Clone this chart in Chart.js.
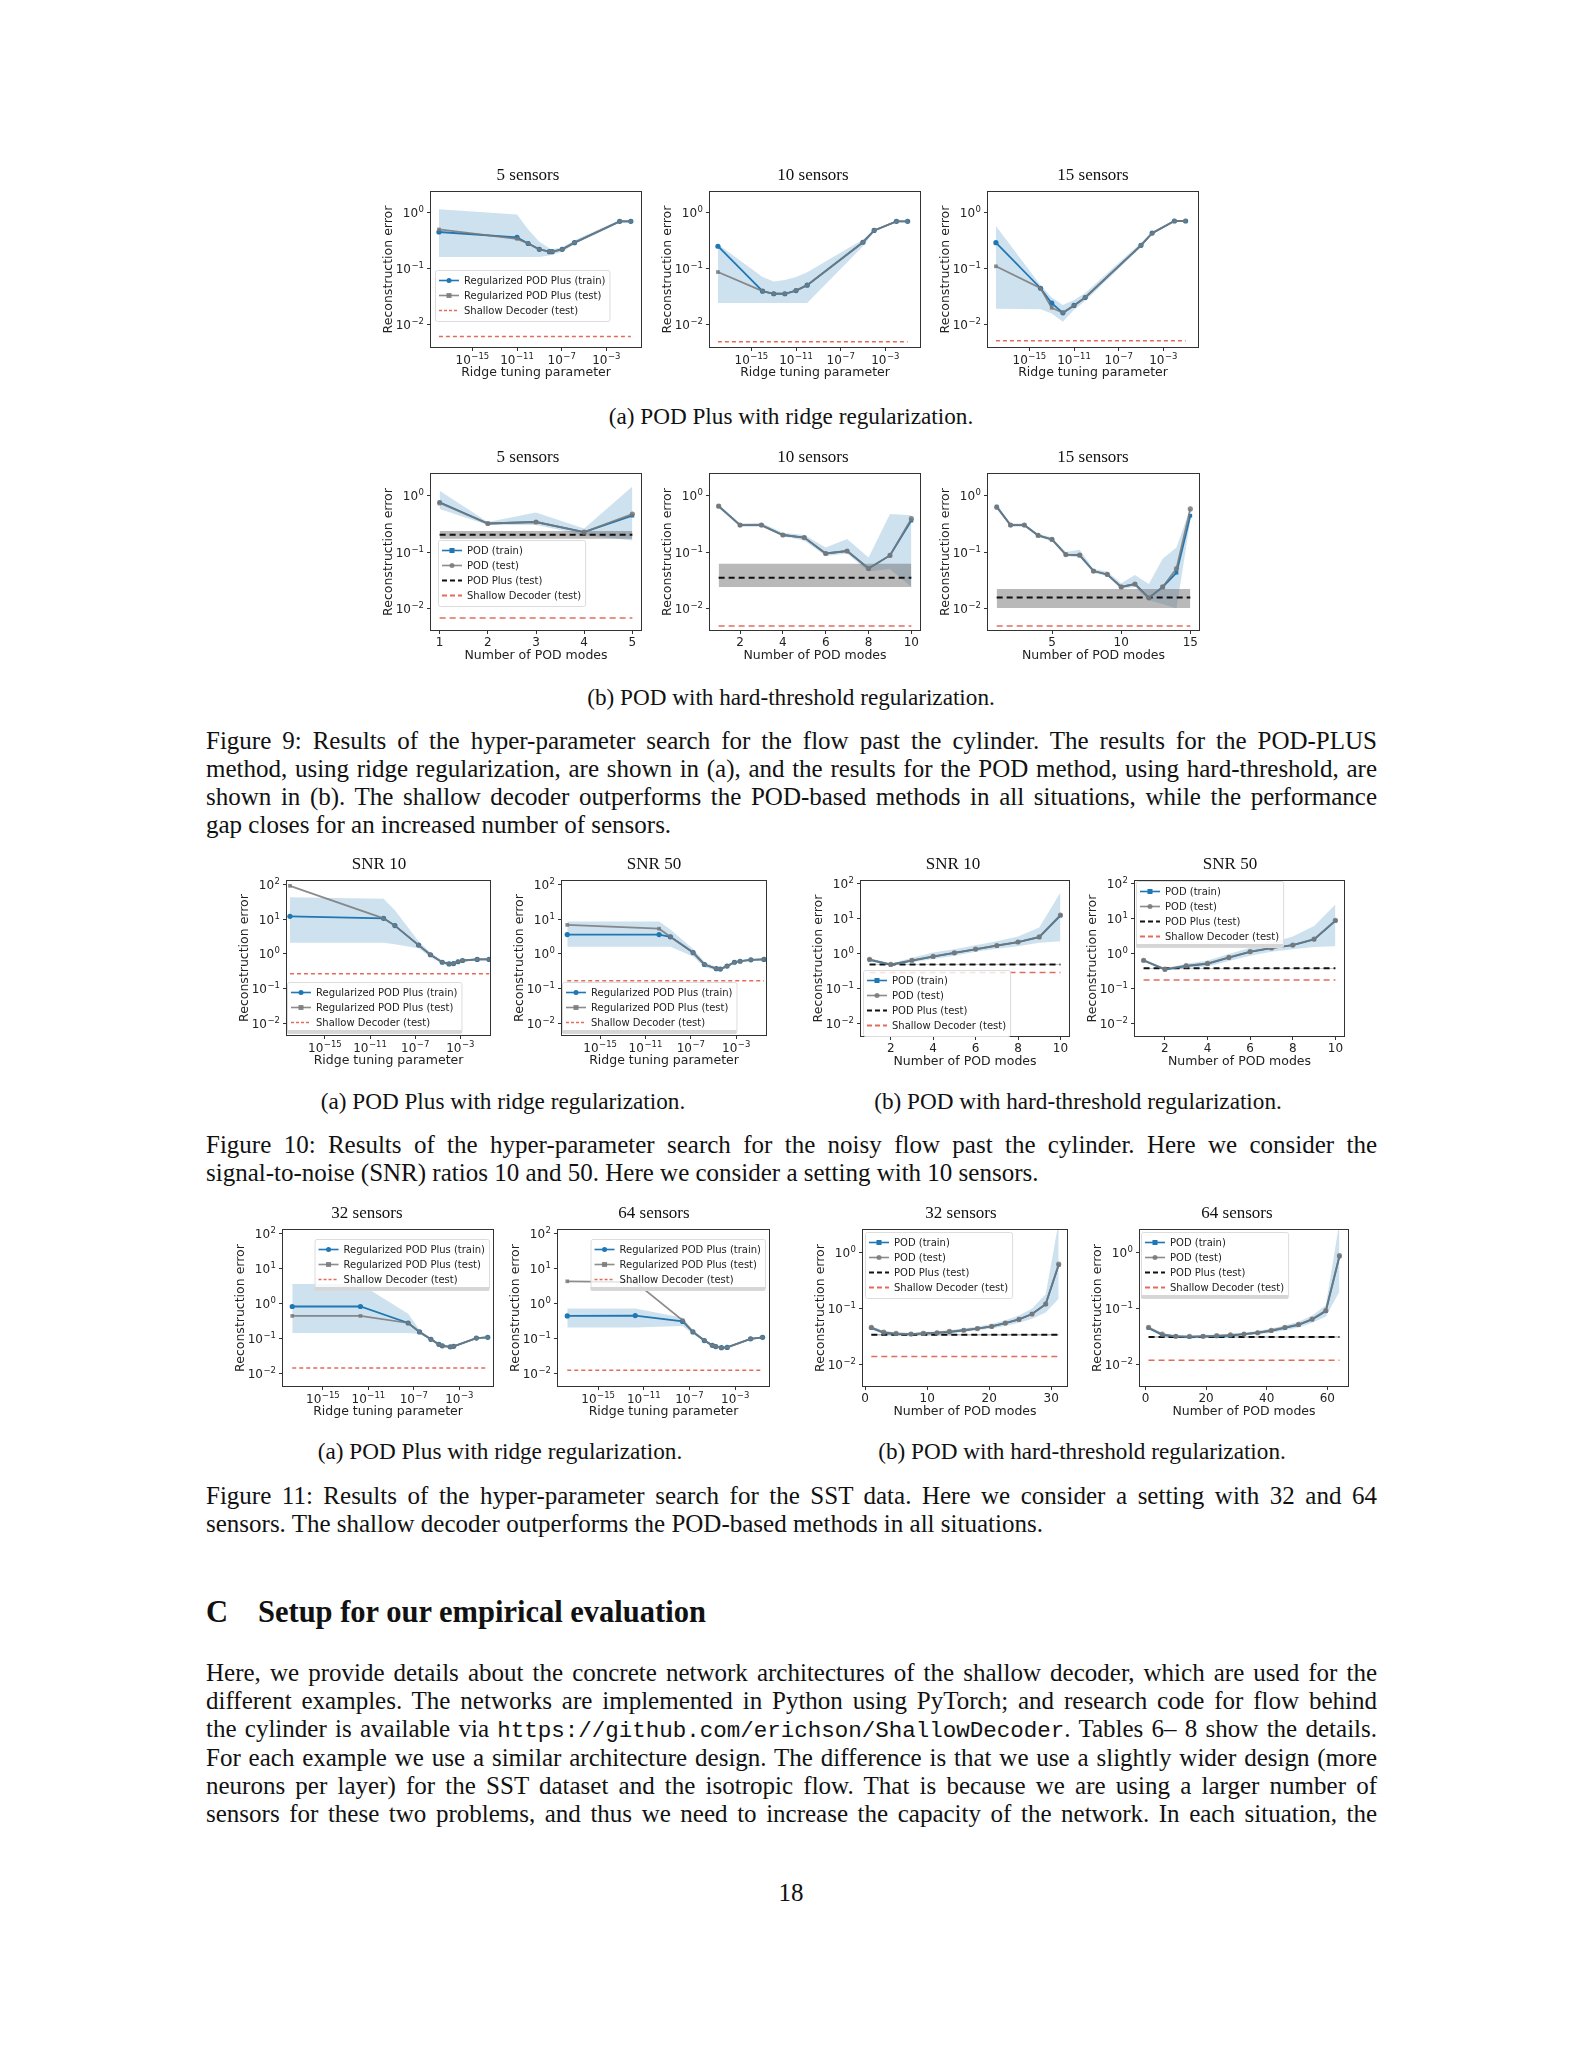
<!DOCTYPE html>
<html>
<head>
<meta charset="utf-8">
<title>Hyper-parameter search figures</title>
<script src="https://cdn.jsdelivr.net/npm/chart.js@4.4.1/dist/chart.umd.min.js"></script>
<style>
  html, body { margin: 0; padding: 0; background: #fff; }
  body { position: relative; width: 1582px; height: 2048px; overflow: hidden;
         font-family: "Liberation Serif", "Times New Roman", serif; color: #111; }
  canvas { position: absolute; }
  .ttl { position: absolute; width: 200px; text-align: center; font-size: 17px; line-height: 22px; white-space: nowrap; }
  .cap { position: absolute; left: 206px; width: 1171px; font-size: 25px; line-height: 28px;
         text-align: justify; text-align-last: justify; }
  .cap.end { text-align-last: left; }
  .sub { position: absolute; width: 800px; text-align: center; font-size: 23.2px; line-height: 28px; white-space: nowrap; }
  .num { font-size: 25px; }
  .mono { font-family: "Liberation Mono", monospace; font-size: 22.5px; }
  .head { position: absolute; top: 1595px; font-size: 30.5px; line-height: 34px; font-weight: bold; white-space: nowrap; }
</style>
</head>
<body>

<!-- Figure 9 text -->
<div class="sub" style="left:391px;top:402px">(a) POD Plus with ridge regularization.</div>
<div class="sub" style="left:391px;top:683px">(b) POD with hard-threshold regularization.</div>
<div class="cap" style="top:727px">Figure 9: Results of the hyper-parameter search for the flow past the cylinder. The results for the POD-PLUS</div>
<div class="cap" style="top:755px">method, using ridge regularization, are shown in (a), and the results for the POD method, using hard-threshold, are</div>
<div class="cap" style="top:783px">shown in (b). The shallow decoder outperforms the POD-based methods in all situations, while the performance</div>
<div class="cap end" style="top:811px">gap closes for an increased number of sensors.</div>

<!-- Figure 10 text -->
<div class="sub" style="left:103px;top:1087px">(a) POD Plus with ridge regularization.</div>
<div class="sub" style="left:678px;top:1087px">(b) POD with hard-threshold regularization.</div>
<div class="cap" style="top:1131px">Figure 10: Results of the hyper-parameter search for the noisy flow past the cylinder. Here we consider the</div>
<div class="cap end" style="top:1159px">signal-to-noise (SNR) ratios 10 and 50. Here we consider a setting with 10 sensors.</div>

<!-- Figure 11 text -->
<div class="sub" style="left:100px;top:1437px">(a) POD Plus with ridge regularization.</div>
<div class="sub" style="left:682px;top:1437px">(b) POD with hard-threshold regularization.</div>
<div class="cap" style="top:1482px">Figure 11: Results of the hyper-parameter search for the SST data. Here we consider a setting with 32 and 64</div>
<div class="cap end" style="top:1510px">sensors. The shallow decoder outperforms the POD-based methods in all situations.</div>

<!-- Section C -->
<div class="head" style="left:206px">C</div>
<div class="head" style="left:258px">Setup for our empirical evaluation</div>
<div class="cap" style="top:1659px">Here, we provide details about the concrete network architectures of the shallow decoder, which are used for the</div>
<div class="cap" style="top:1687px">different examples. The networks are implemented in Python using PyTorch; and research code for flow behind</div>
<div class="cap" style="top:1715px">the cylinder is available via <span class="mono">https://github.com/erichson/ShallowDecoder</span>. Tables 6– 8 show the details.</div>
<div class="cap" style="top:1744px">For each example we use a similar architecture design. The difference is that we use a slightly wider design (more</div>
<div class="cap" style="top:1772px">neurons per layer) for the SST dataset and the isotropic flow. That is because we are using a larger number of</div>
<div class="cap" style="top:1800px">sensors for these two problems, and thus we need to increase the capacity of the network. In each situation, the</div>
<div class="sub num" style="left:391px;top:1879px">18</div>

<script>
// tick labels (exponents for log axes, plain values for linear axes)
const ridgeTickExp = [-15, -11, -7, -3];
const errTicksSmall = [-2, -1, 0];
const errTicksWide = [-2, -1, 0, 1, 2];
const modeTicks5 = [1, 2, 3, 4, 5];
const modeTicks10 = [2, 4, 6, 8, 10];
const modeTicks15 = [5, 10, 15];
const modeTicks32 = [0, 10, 20, 30];
const modeTicks64 = [0, 20, 40, 60];

// ---- Figure 9 (a): ridge parameter, flow past the cylinder ----
const f9a5Exp   = [-18, -11, -10, -9, -8.1, -7.85, -6.95, -5.85, -1.8, -0.8];
const f9a5Train = [0.45, 0.36, 0.28, 0.22, 0.20, 0.20, 0.22, 0.29, 0.70, 0.70];
const f9a5Test  = [0.50, 0.34, 0.28, 0.22, 0.20, 0.20, 0.22, 0.29, 0.70, 0.70];
const f9a5Hi    = [1.15, 0.93, 0.50, 0.30, 0.23, 0.22, 0.24, 0.32, 0.74, 0.74];
const f9a5Lo    = [0.16, 0.16, 0.16, 0.16, 0.17, 0.175, 0.20, 0.27, 0.66, 0.66];
const f9a5Shallow = 0.006;

const f9a10Exp   = [-18, -14, -13, -12, -11, -10, -5, -4, -2, -1];
const f9a10Train = [0.25, 0.039, 0.035, 0.035, 0.040, 0.050, 0.295, 0.48, 0.70, 0.70];
const f9a10Test  = [0.086, 0.039, 0.035, 0.035, 0.040, 0.050, 0.295, 0.48, 0.70, 0.70];
const f9a10Hi    = [0.27, 0.070, 0.058, 0.062, 0.070, 0.085, 0.33, 0.50, 0.72, 0.72];
const f9a10Lo    = [0.024, 0.024, 0.024, 0.024, 0.024, 0.024, 0.25, 0.45, 0.68, 0.68];
const f9a10Shallow = 0.0048;

const f9a15Exp   = [-18, -14, -13, -12, -11, -10, -5, -4, -2, -1];
const f9a15Train = [0.29, 0.044, 0.0237, 0.0159, 0.0216, 0.030, 0.26, 0.43, 0.71, 0.71];
const f9a15Test  = [0.109, 0.044, 0.0196, 0.0159, 0.0216, 0.030, 0.26, 0.43, 0.71, 0.71];
const f9a15Hi    = [0.58, 0.050, 0.030, 0.022, 0.027, 0.036, 0.29, 0.46, 0.73, 0.73];
const f9a15Lo    = [0.0188, 0.0185, 0.0155, 0.011, 0.018, 0.026, 0.24, 0.41, 0.69, 0.69];
const f9a15Shallow = 0.005;

// ---- Figure 9 (b): number of POD modes ----
const f9b5Modes = [1, 2, 3, 4, 5];
const f9b5Train = [0.76, 0.32, 0.34, 0.225, 0.44];
const f9b5Test  = [0.74, 0.32, 0.34, 0.225, 0.47];
const f9b5Hi    = [1.22, 0.34, 0.50, 0.26, 1.45];
const f9b5Lo    = [0.58, 0.30, 0.30, 0.20, 0.16];
const f9b5Plus  = [0.202, 0.172, 0.235];   // mean, low, high
const f9b5Shallow = 0.0068;

const f9b10Modes = [1, 2, 3, 4, 5, 6, 7, 8, 9, 10];
const f9b10Train = [0.65, 0.30, 0.30, 0.20, 0.18, 0.094, 0.104, 0.051, 0.087, 0.36];
const f9b10Test  = [0.65, 0.30, 0.30, 0.20, 0.18, 0.094, 0.104, 0.051, 0.087, 0.39];
const f9b10Hi    = [0.70, 0.32, 0.33, 0.22, 0.20, 0.12, 0.17, 0.08, 0.47, 0.45];
const f9b10Lo    = [0.60, 0.28, 0.28, 0.19, 0.16, 0.085, 0.094, 0.045, 0.05, 0.024];
const f9b10Plus  = [0.035, 0.024, 0.062];
const f9b10Shallow = 0.0049;

const f9b15Modes = [1, 2, 3, 4, 5, 6, 7, 8, 9, 10, 11, 12, 13, 14, 15];
const f9b15Train = [0.64, 0.30, 0.30, 0.197, 0.167, 0.090, 0.088, 0.046, 0.040, 0.024, 0.027, 0.0154, 0.024, 0.043, 0.44];
const f9b15Test  = [0.62, 0.30, 0.30, 0.197, 0.167, 0.090, 0.088, 0.046, 0.040, 0.024, 0.027, 0.0154, 0.024, 0.051, 0.58];
const f9b15Hi    = [0.70, 0.32, 0.32, 0.21, 0.18, 0.10, 0.11, 0.05, 0.045, 0.028, 0.039, 0.027, 0.076, 0.12, 0.60];
const f9b15Lo    = [0.60, 0.28, 0.28, 0.185, 0.155, 0.085, 0.08, 0.043, 0.037, 0.022, 0.024, 0.014, 0.012, 0.010, 0.36];
const f9b15Plus  = [0.0156, 0.0102, 0.022];
const f9b15Shallow = 0.0049;

// ---- Figure 10 (a): ridge parameter, noisy flow ----
const f10aS10Exp   = [-18.1, -9.8, -8.8, -6.7, -5.65, -4.6, -4.0, -3.6, -3.2, -2.8, -1.5, -0.45];
const f10aS10Train = [12, 10.5, 6.5, 1.8, 0.95, 0.58, 0.52, 0.53, 0.60, 0.65, 0.70, 0.70];
const f10aS10Test  = [90, 10.5, 6.5, 1.8, 0.95, 0.58, 0.52, 0.53, 0.60, 0.65, 0.70, 0.70];
const f10aS10Hi    = [42, 38, 18, 2.3, 1.1, 0.65, 0.58, 0.60, 0.66, 0.70, 0.75, 0.75];
const f10aS10Lo    = [2.1, 2.1, 1.9, 1.45, 0.82, 0.52, 0.47, 0.48, 0.55, 0.60, 0.66, 0.66];
const f10aS10Shallow = 0.27;

const f10aS50Exp   = [-17.9, -9.8, -8.8, -6.8, -5.8, -4.75, -4.4, -3.8, -3.15, -2.65, -1.7, -0.55];
const f10aS50Train = [3.6, 3.6, 3.1, 1.1, 0.50, 0.38, 0.37, 0.45, 0.58, 0.62, 0.68, 0.70];
const f10aS50Test  = [6.8, 5.3, 3.1, 1.1, 0.50, 0.38, 0.37, 0.45, 0.58, 0.62, 0.68, 0.70];
const f10aS50Hi    = [8.5, 8.5, 5.0, 1.4, 0.60, 0.42, 0.41, 0.50, 0.62, 0.66, 0.72, 0.74];
const f10aS50Lo    = [1.6, 1.6, 1.6, 0.85, 0.42, 0.34, 0.33, 0.40, 0.54, 0.58, 0.64, 0.66];
const f10aS50Shallow = 0.17;

// ---- Figure 10 (b): number of POD modes, noisy flow ----
const f10bModes = [1, 2, 3, 4, 5, 6, 7, 8, 9, 10];
const f10bS10Train = [0.65, 0.47, 0.62, 0.80, 1.02, 1.30, 1.65, 2.1, 2.9, 12];
const f10bS10Test  = [0.67, 0.48, 0.63, 0.81, 1.03, 1.32, 1.67, 2.1, 2.95, 12.5];
const f10bS10Hi    = [0.70, 0.50, 0.75, 1.05, 1.30, 1.70, 2.2, 3.0, 5.5, 55];
const f10bS10Lo    = [0.60, 0.44, 0.55, 0.68, 0.85, 1.10, 1.35, 1.6, 2.0, 2.2];
const f10bS10Plus  = [0.48, 0.47, 0.49];
const f10bS10Shallow = 0.28;

const f10bS50Train = [0.62, 0.34, 0.43, 0.50, 0.75, 1.10, 1.40, 1.7, 2.5, 8.5];
const f10bS50Test  = [0.63, 0.35, 0.44, 0.51, 0.76, 1.12, 1.42, 1.72, 2.55, 8.8];
const f10bS50Hi    = [0.68, 0.37, 0.50, 0.62, 0.95, 1.45, 2.0, 3.0, 6.0, 25];
const f10bS50Lo    = [0.58, 0.32, 0.38, 0.42, 0.60, 0.85, 1.10, 1.3, 1.5, 1.6];
const f10bS50Plus  = [0.37, 0.36, 0.38];
const f10bS50Shallow = 0.17;

// ---- Figure 11 (a): ridge parameter, SST ----
const f11a32Exp   = [-17.7, -11.7, -7.5, -6.5, -5.5, -4.8, -4.5, -3.8, -3.5, -1.5, -0.5];
const f11a32Train = [0.80, 0.80, 0.27, 0.15, 0.092, 0.066, 0.060, 0.056, 0.058, 0.100, 0.105];
const f11a32Test  = [0.43, 0.43, 0.27, 0.15, 0.092, 0.066, 0.060, 0.056, 0.058, 0.100, 0.105];
const f11a32Hi    = [3.5, 3.5, 0.50, 0.17, 0.100, 0.071, 0.065, 0.060, 0.062, 0.105, 0.110];
const f11a32Lo    = [0.14, 0.14, 0.14, 0.13, 0.085, 0.061, 0.055, 0.052, 0.054, 0.095, 0.100];
const f11a32Shallow = 0.014;

const f11a64Exp   = [-17.7, -11.75, -7.6, -6.7, -5.7, -5.0, -4.7, -4.2, -3.7, -1.65, -0.6];
const f11a64Train = [0.43, 0.44, 0.30, 0.15, 0.085, 0.062, 0.057, 0.053, 0.054, 0.095, 0.105];
const f11a64Test  = [4.2, 4.0, 0.32, 0.15, 0.085, 0.062, 0.057, 0.053, 0.054, 0.095, 0.105];
const f11a64Hi    = [0.70, 0.70, 0.38, 0.17, 0.095, 0.068, 0.062, 0.058, 0.058, 0.100, 0.110];
const f11a64Lo    = [0.20, 0.20, 0.22, 0.13, 0.077, 0.056, 0.052, 0.049, 0.050, 0.090, 0.100];
const f11a64Shallow = 0.012;

// ---- Figure 11 (b): number of POD modes, SST ----
const f11b32Modes = [1, 3, 5, 7.4, 9.4, 11.6, 13.6, 15.9, 18.1, 20.4, 22.6, 24.8, 26.9, 29.1, 31.2];
const f11b32Train = [0.045, 0.037, 0.035, 0.035, 0.036, 0.037, 0.038, 0.041, 0.044, 0.048, 0.055, 0.064, 0.080, 0.12, 0.60];
const f11b32Test  = [0.046, 0.038, 0.036, 0.035, 0.036, 0.037, 0.039, 0.041, 0.044, 0.048, 0.055, 0.064, 0.080, 0.12, 0.62];
const f11b32Hi    = [0.048, 0.039, 0.037, 0.037, 0.038, 0.039, 0.041, 0.044, 0.048, 0.053, 0.062, 0.075, 0.10, 0.18, 3.5];
const f11b32Lo    = [0.042, 0.035, 0.033, 0.033, 0.034, 0.035, 0.036, 0.038, 0.041, 0.044, 0.049, 0.056, 0.066, 0.085, 0.15];
const f11b32Plus  = [0.034, 0.033, 0.035];
const f11b32Shallow = 0.014;

const f11b64Modes = [1, 5.5, 10, 14.5, 19, 23.5, 28, 32.5, 37, 41.5, 46, 50.5, 55, 59.5, 64];
const f11b64Train = [0.045, 0.034, 0.032, 0.031, 0.032, 0.032, 0.033, 0.035, 0.037, 0.040, 0.045, 0.051, 0.064, 0.090, 0.85];
const f11b64Test  = [0.046, 0.035, 0.032, 0.032, 0.032, 0.033, 0.034, 0.035, 0.037, 0.041, 0.046, 0.052, 0.065, 0.092, 0.88];
const f11b64Hi    = [0.048, 0.036, 0.034, 0.033, 0.034, 0.034, 0.035, 0.037, 0.040, 0.044, 0.050, 0.058, 0.075, 0.115, 3.5];
const f11b64Lo    = [0.042, 0.032, 0.030, 0.029, 0.030, 0.030, 0.031, 0.033, 0.035, 0.037, 0.041, 0.046, 0.056, 0.072, 0.20];
const f11b64Plus  = [0.031, 0.030, 0.032];
const f11b64Shallow = 0.012;

// colours
const BLUE = '#1f77b4';
const GREY = 'rgba(120,120,120,0.85)';
const RED = 'rgba(220,70,50,0.8)';
const BAND = 'rgba(31,119,180,0.22)';
const PLUSBAND = 'rgba(100,100,100,0.45)';
const NONE = 'rgba(0,0,0,0)';

const LEG_RIDGE = [
  {label: 'Regularized POD Plus (train)', color: BLUE, marker: 'circle'},
  {label: 'Regularized POD Plus (test)', color: GREY, marker: 'rect'},
  {label: 'Shallow Decoder (test)', color: RED, dash: [3, 2]}
];
const LEG_POD = [
  {label: 'POD (train)', color: BLUE, marker: 'rect'},
  {label: 'POD (test)', color: GREY, marker: 'circle'},
  {label: 'POD Plus (test)', color: '#111', dash: [5, 3], lw: 2},
  {label: 'Shallow Decoder (test)', color: RED, dash: [5, 3], lw: 2}
];

// box round the plot area, like matplotlib spines
const framePlugin = {
  id: 'axesFrame',
  afterDatasetsDraw(chart) {
    const {ctx, chartArea: a} = chart;
    ctx.save();
    ctx.strokeStyle = '#333';
    ctx.lineWidth = 1;
    ctx.strokeRect(Math.round(a.left) + 0.5, Math.round(a.top) + 0.5,
                   Math.round(a.width) - 1, Math.round(a.height) - 1);
    ctx.restore();
  }
};

// "10" with a raised exponent, placed with the chart's own scales
const mathTicks = {
  id: 'mathTicks',
  afterDraw(chart, args, o) {
    if (!o || !o.yTicks) return;
    const ctx = chart.ctx, a = chart.chartArea;
    const xs = chart.scales.x, ys = chart.scales.y;
    const big = '12px "DejaVu Sans"', small = '8.5px "DejaVu Sans"';
    const expText = e => String(e).replace('-', '\u2212');
    const label = (e, x, base, align) => {
      ctx.font = big;
      const wb = ctx.measureText('10').width;
      ctx.font = small;
      const we = ctx.measureText(expText(e)).width + 0.5;
      const left = align === 'right' ? x - wb - we : x - (wb + we) / 2;
      ctx.font = big;
      ctx.fillText('10', left, base);
      ctx.font = small;
      ctx.fillText(expText(e), left + wb + 0.5, base - 5);
    };
    ctx.save();
    ctx.fillStyle = '#222';
    ctx.textAlign = 'left';
    ctx.textBaseline = 'alphabetic';
    o.yTicks.forEach(e => label(e, a.left - 6, ys.getPixelForValue(10 ** e) + 4.5, 'right'));
    if (o.xLog) o.xTicks.forEach(e => label(e, xs.getPixelForValue(10 ** e), a.bottom + 16, 'center'));
    ctx.restore();
  }
};

// legend drawn inside the plot area
const boxLegend = {
  id: 'boxLegend',
  afterDatasetsDraw(chart, args, o) {
    if (!o || !o.items) return;
    const ctx = chart.ctx, a = chart.chartArea;
    const rowH = 15, handle = 20, pad = 4;
    ctx.save();
    ctx.font = '10px "DejaVu Sans"';
    let tw = 0;
    o.items.forEach(it => { tw = Math.max(tw, ctx.measureText(it.label).width); });
    const w = pad * 2 + handle + 5 + tw;
    const h = o.items.length * rowH + 6;
    const x = o.right !== undefined ? a.right - o.right - w : a.left + o.x;
    const y = a.top + o.y;
    ctx.fillStyle = 'rgba(255,255,255,0.8)';
    ctx.strokeStyle = '#dcdcdc';
    ctx.lineWidth = 1;
    ctx.beginPath();
    ctx.roundRect(x + 0.5, y + 0.5, w, h, 2);
    ctx.fill();
    ctx.stroke();
    if (o.bar) {
      ctx.fillStyle = '#d6d6d6';
      ctx.fillRect(x, y + h - 3, w, 3.5);
    }
    o.items.forEach((it, i) => {
      const cy = y + 3 + rowH * (i + 0.5);
      ctx.strokeStyle = it.color;
      ctx.lineWidth = it.lw || 1.6;
      ctx.setLineDash(it.dash ? [...it.dash] : []);
      ctx.beginPath();
      ctx.moveTo(x + pad, cy);
      ctx.lineTo(x + pad + handle, cy);
      ctx.stroke();
      ctx.setLineDash([]);
      if (it.marker) {
        ctx.fillStyle = it.color;
        const mx = x + pad + handle / 2;
        if (it.marker === 'circle') {
          ctx.beginPath(); ctx.arc(mx, cy, 2.5, 0, Math.PI * 2); ctx.fill();
        } else {
          ctx.fillRect(mx - 2.5, cy - 2.5, 5, 5);
        }
      }
      ctx.fillStyle = '#222';
      ctx.textBaseline = 'middle';
      ctx.fillText(it.label, x + pad + handle + 5, cy + 0.5);
    });
    ctx.restore();
  }
};

Chart.register(framePlugin, mathTicks, boxLegend);

function buildDatasets(p) {
  const xs = p.xLog ? p.x.map(e => 10 ** e) : p.x;
  const pts = arr => arr.map((y, i) => ({x: xs[i], y: y}));
  const x0 = xs[0], x1 = xs[xs.length - 1];
  const flat = v => [{x: x0, y: v}, {x: x1, y: v}];
  const hidden = {borderColor: NONE, borderWidth: 1, pointRadius: 0};
  const ds = [];
  ds.push(Object.assign({data: pts(p.hi), fill: '+1', backgroundColor: BAND, order: 10}, hidden));
  ds.push(Object.assign({data: pts(p.lo), fill: false, order: 10}, hidden));
  if (p.plus) {
    ds.push(Object.assign({data: flat(p.plus[2]), fill: '+1', backgroundColor: PLUSBAND, order: 9}, hidden));
    ds.push(Object.assign({data: flat(p.plus[1]), fill: false, order: 9}, hidden));
    ds.push({data: flat(p.plus[0]), borderColor: '#111', borderWidth: 2, borderDash: [6, 4],
             pointRadius: 0, fill: false, order: 4});
  }
  ds.push({data: flat(p.shallow), borderColor: RED, borderWidth: 1.5, borderDash: p.plus ? [6, 4] : [4, 3],
           pointRadius: 0, fill: false, order: 5});
  ds.push({data: pts(p.train), borderColor: BLUE, backgroundColor: BLUE, borderWidth: 1.8,
           pointStyle: p.plus ? 'rect' : 'circle', pointRadius: 2.6, pointBorderWidth: 0,
           fill: false, order: 2});
  ds.push({data: pts(p.test), borderColor: GREY, backgroundColor: GREY, borderWidth: 1.8,
           pointStyle: p.plus ? 'circle' : 'rect', pointRadius: 2.6, pointBorderWidth: 0,
           fill: false, order: 1});
  return ds;
}

function makePanel(p) {
  const [fl, ft, fw, fh] = p.frame;
  const padL = 50, padT = 8, padR = 6, padB = 36;
  const cv = document.createElement('canvas');
  cv.width = fw + padL + padR;
  cv.height = fh + padT + padB;
  cv.style.left = (fl - padL) + 'px';
  cv.style.top = (ft - padT) + 'px';
  cv.style.width = cv.width + 'px';
  cv.style.height = cv.height + 'px';
  document.body.appendChild(cv);

  const t = document.createElement('div');
  t.className = 'ttl';
  t.textContent = p.title;
  t.style.left = (p.tx - 100) + 'px';
  t.style.top = (ft - 27) + 'px';
  document.body.appendChild(t);

  const axisFont = {family: 'DejaVu Sans', size: 12.5};
  const tickFont = {family: 'DejaVu Sans', size: 12};
  const xv = v => p.xLog ? 10 ** v : v;

  new Chart(cv, {
    type: 'line',
    data: {datasets: buildDatasets(p)},
    options: {
      responsive: false,
      animation: false,
      events: [],
      layout: {padding: {left: 0, top: padT, right: padR, bottom: 0}},
      plugins: {
        legend: {display: false},
        tooltip: {enabled: false},
        mathTicks: {xLog: p.xLog, xTicks: p.xTicks, yTicks: p.yTicks},
        boxLegend: p.legend || {}
      },
      scales: {
        x: {
          type: p.xLog ? 'logarithmic' : 'linear',
          min: xv(p.xRange[0]),
          max: xv(p.xRange[1]),
          afterFit: s => { s.height = padB; },
          afterBuildTicks: s => { s.ticks = p.xTicks.map(v => ({value: xv(v)})); },
          ticks: {
            display: !p.xLog,
            autoSkip: false, maxRotation: 0, minRotation: 0, padding: 2, color: '#222', font: tickFont,
            callback: (v, i) => String(p.xTicks[i])
          },
          grid: {drawOnChartArea: false, drawTicks: true, tickLength: 3, color: '#333'},
          border: {display: false},
          title: {display: true, text: p.xLabel, color: '#222', font: axisFont, padding: {top: 0, bottom: 3.5}}
        },
        y: {
          type: 'logarithmic',
          min: 10 ** p.yRange[0],
          max: 10 ** p.yRange[1],
          afterFit: s => { s.width = padL; },
          afterBuildTicks: s => { s.ticks = p.yTicks.map(v => ({value: 10 ** v})); },
          ticks: {display: false},
          grid: {drawOnChartArea: false, drawTicks: true, tickLength: 3, color: '#333'},
          border: {display: false},
          title: {display: true, text: 'Reconstruction error', color: '#222', font: axisFont,
                  padding: {top: 1.5, bottom: 0}}
        }
      }
    }
  });
}

const RIDGE = 'Ridge tuning parameter';
const MODES = 'Number of POD modes';

const panels = [
  // Figure 9 (a)
  {frame: [430, 191, 212, 157], title: '5 sensors', tx: 528, xLog: true, xRange: [-18.8, 0.2], xTicks: ridgeTickExp,
   xLabel: RIDGE, yRange: [-2.43, 0.39], yTicks: errTicksSmall,
   x: f9a5Exp, train: f9a5Train, test: f9a5Test, hi: f9a5Hi, lo: f9a5Lo, shallow: f9a5Shallow,
   legend: {x: 5, y: 79, items: LEG_RIDGE}},
  {frame: [709, 191, 212, 157], title: '10 sensors', tx: 813, xLog: true, xRange: [-18.8, 0.2], xTicks: ridgeTickExp,
   xLabel: RIDGE, yRange: [-2.43, 0.39], yTicks: errTicksSmall,
   x: f9a10Exp, train: f9a10Train, test: f9a10Test, hi: f9a10Hi, lo: f9a10Lo, shallow: f9a10Shallow},
  {frame: [987, 191, 212, 157], title: '15 sensors', tx: 1093, xLog: true, xRange: [-18.8, 0.2], xTicks: ridgeTickExp,
   xLabel: RIDGE, yRange: [-2.43, 0.39], yTicks: errTicksSmall,
   x: f9a15Exp, train: f9a15Train, test: f9a15Test, hi: f9a15Hi, lo: f9a15Lo, shallow: f9a15Shallow},
  // Figure 9 (b)
  {frame: [430, 473, 212, 158], title: '5 sensors', tx: 528, xLog: false, xRange: [0.8, 5.2], xTicks: modeTicks5,
   xLabel: MODES, yRange: [-2.4, 0.4], yTicks: errTicksSmall,
   x: f9b5Modes, train: f9b5Train, test: f9b5Test, hi: f9b5Hi, lo: f9b5Lo, plus: f9b5Plus, shallow: f9b5Shallow,
   legend: {x: 8, y: 67, items: LEG_POD}},
  {frame: [709, 473, 212, 158], title: '10 sensors', tx: 813, xLog: false, xRange: [0.55, 10.45], xTicks: modeTicks10,
   xLabel: MODES, yRange: [-2.4, 0.4], yTicks: errTicksSmall,
   x: f9b10Modes, train: f9b10Train, test: f9b10Test, hi: f9b10Hi, lo: f9b10Lo, plus: f9b10Plus, shallow: f9b10Shallow},
  {frame: [987, 473, 213, 158], title: '15 sensors', tx: 1093, xLog: false, xRange: [0.3, 15.7], xTicks: modeTicks15,
   xLabel: MODES, yRange: [-2.4, 0.4], yTicks: errTicksSmall,
   x: f9b15Modes, train: f9b15Train, test: f9b15Test, hi: f9b15Hi, lo: f9b15Lo, plus: f9b15Plus, shallow: f9b15Shallow},
  // Figure 10 (a)
  {frame: [286, 880, 205, 156], title: 'SNR 10', tx: 379, xLog: true, xRange: [-18.45, -0.28], xTicks: ridgeTickExp,
   xLabel: RIDGE, yRange: [-2.35, 2.12], yTicks: errTicksWide,
   x: f10aS10Exp, train: f10aS10Train, test: f10aS10Test, hi: f10aS10Hi, lo: f10aS10Lo, shallow: f10aS10Shallow,
   legend: {x: 1, y: 102, bar: true, items: LEG_RIDGE}},
  {frame: [561, 880, 206, 156], title: 'SNR 50', tx: 654, xLog: true, xRange: [-18.45, -0.28], xTicks: ridgeTickExp,
   xLabel: RIDGE, yRange: [-2.35, 2.12], yTicks: errTicksWide,
   x: f10aS50Exp, train: f10aS50Train, test: f10aS50Test, hi: f10aS50Hi, lo: f10aS50Lo, shallow: f10aS50Shallow,
   legend: {x: 1, y: 102, bar: true, items: LEG_RIDGE}},
  // Figure 10 (b)
  {frame: [860, 880, 210, 157], title: 'SNR 10', tx: 953, xLog: false, xRange: [0.55, 10.45], xTicks: modeTicks10,
   xLabel: MODES, yRange: [-2.4, 2.1], yTicks: errTicksWide,
   x: f10bModes, train: f10bS10Train, test: f10bS10Test, hi: f10bS10Hi, lo: f10bS10Lo, plus: f10bS10Plus, shallow: f10bS10Shallow,
   legend: {x: 3, y: 90, items: LEG_POD}},
  {frame: [1134, 880, 211, 157], title: 'SNR 50', tx: 1230, xLog: false, xRange: [0.55, 10.45], xTicks: modeTicks10,
   xLabel: MODES, yRange: [-2.4, 2.1], yTicks: errTicksWide,
   x: f10bModes, train: f10bS50Train, test: f10bS50Test, hi: f10bS50Hi, lo: f10bS50Lo, plus: f10bS50Plus, shallow: f10bS50Shallow,
   legend: {x: 2, y: 1, bar: true, items: LEG_POD}},
  // Figure 11 (a)
  {frame: [282, 1229, 212, 158], title: '32 sensors', tx: 367, xLog: true, xRange: [-18.6, 0.05], xTicks: ridgeTickExp,
   xLabel: RIDGE, yRange: [-2.4, 2.12], yTicks: errTicksWide,
   x: f11a32Exp, train: f11a32Train, test: f11a32Test, hi: f11a32Hi, lo: f11a32Lo, shallow: f11a32Shallow,
   legend: {right: 5, y: 10, bar: true, items: LEG_RIDGE}},
  {frame: [557, 1229, 213, 158], title: '64 sensors', tx: 654, xLog: true, xRange: [-18.6, 0.05], xTicks: ridgeTickExp,
   xLabel: RIDGE, yRange: [-2.4, 2.12], yTicks: errTicksWide,
   x: f11a64Exp, train: f11a64Train, test: f11a64Test, hi: f11a64Hi, lo: f11a64Lo, shallow: f11a64Shallow,
   legend: {right: 5, y: 10, bar: true, items: LEG_RIDGE}},
  // Figure 11 (b)
  {frame: [862, 1229, 206, 158], title: '32 sensors', tx: 961, xLog: false, xRange: [-0.5, 32.7], xTicks: modeTicks32,
   xLabel: MODES, yRange: [-2.4, 0.42], yTicks: errTicksSmall,
   x: f11b32Modes, train: f11b32Train, test: f11b32Test, hi: f11b32Hi, lo: f11b32Lo, plus: f11b32Plus, shallow: f11b32Shallow,
   legend: {x: 3, y: 3, items: LEG_POD}},
  {frame: [1139, 1229, 210, 158], title: '64 sensors', tx: 1237, xLog: false, xRange: [-2.15, 67.15], xTicks: modeTicks64,
   xLabel: MODES, yRange: [-2.4, 0.42], yTicks: errTicksSmall,
   x: f11b64Modes, train: f11b64Train, test: f11b64Test, hi: f11b64Hi, lo: f11b64Lo, plus: f11b64Plus, shallow: f11b64Shallow,
   legend: {x: 2, y: 3, bar: true, items: LEG_POD}}
];

panels.forEach(makePanel);

// keep every justified caption line on one line: tighten word gaps first, then letters
document.querySelectorAll('.cap').forEach(el => {
  let ws = 0, ls = 0;
  while (el.offsetHeight > 40 && ws > -4) {
    ws -= 0.25;
    el.style.wordSpacing = ws + 'px';
  }
  while (el.offsetHeight > 40 && ls > -1.5) {
    ls -= 0.05;
    el.style.letterSpacing = ls + 'px';
  }
});
</script>
</body>
</html>
